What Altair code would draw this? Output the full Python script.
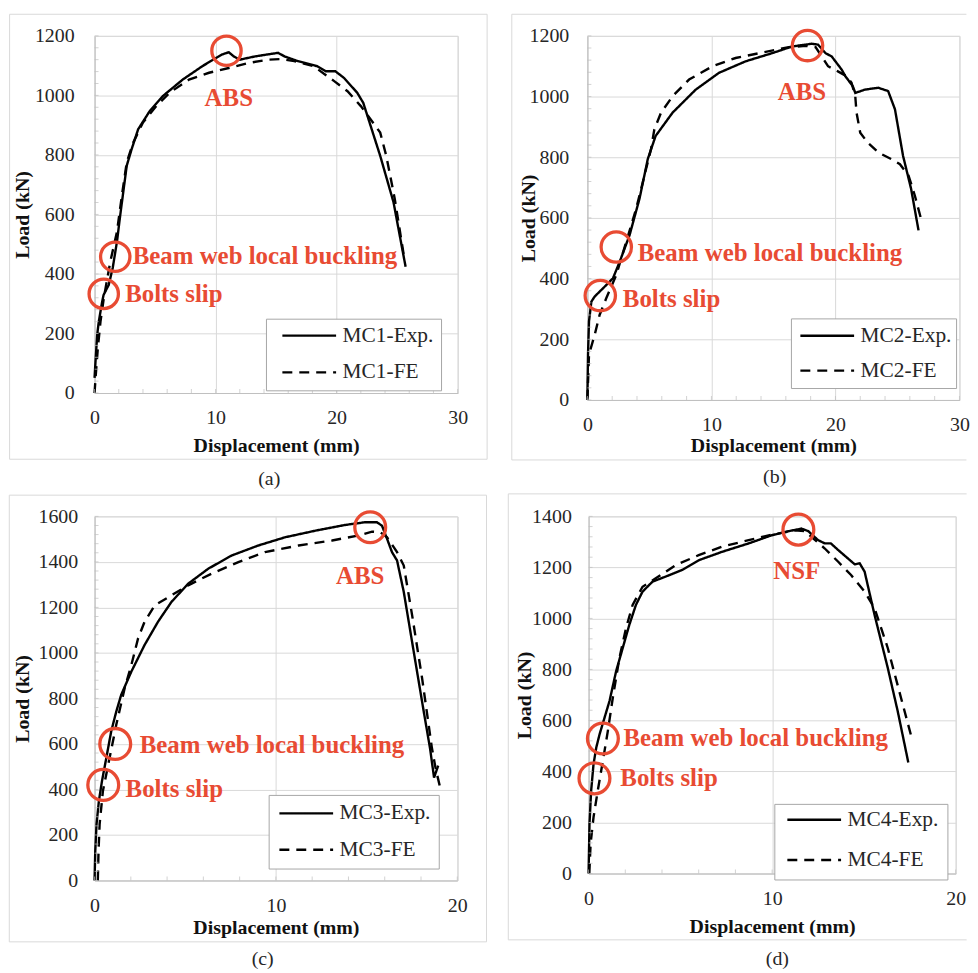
import altair as alt
import pandas as pd

FONT = "Liberation Serif"
RED = "#E84B33"
GRID = "#d9d9d9"
DOMAIN = "#bfbfbf"
TXT = "#262626"

# ---------------- data ----------------
# (a) MC1
a_exp_d = [0, 0.1, 0.22, 0.35, 0.63, 0.75, 1.17, 1.5, 1.85, 2.12, 2.66, 3.07, 3.6, 4.57, 5.65, 7.28, 8.9, 10.5, 11.09, 11.5, 12.0, 13.26, 15.16, 15.7, 16.8, 18.4, 19.1, 19.9, 20.6, 21.7, 22.2, 22.5, 23.6, 24.7, 25.7]
a_exp_L = [51, 120, 196, 240, 307, 330, 363, 420, 508, 597, 764, 820, 886, 948, 998, 1053, 1098, 1137, 1145, 1131, 1120, 1131, 1143, 1131, 1115, 1098, 1081, 1081, 1059, 1009, 975, 937, 797, 641, 424]
a_fe_d = [0, 0.1, 0.27, 0.49, 0.76, 1.3, 1.85, 2.26, 2.66, 3.2, 4.0, 5.1, 6.2, 7.8, 9.46, 11.09, 12.7, 14.35, 15.4, 16.5, 18.1, 19.8, 20.9, 22.0, 22.8, 23.6, 24.1, 24.8, 25.6]
a_fe_L = [0, 60, 150, 240, 318, 441, 541, 664, 775, 842, 909, 964, 1009, 1053, 1076, 1092, 1109, 1120, 1122, 1115, 1098, 1048, 1014, 964, 920, 875, 797, 653, 450]

# (b) MC2
b_exp_d = [0, 0.05, 0.13, 0.32, 0.59, 1.26, 2.06, 2.6, 3.4, 4.2, 4.87, 5.5, 6.87, 8.74, 10.6, 12.75, 14.9, 16.5, 18.1, 18.6, 19.2, 19.7, 20.5, 20.8, 21.4, 21.6, 22.4, 23.45, 24.25, 24.8, 25.45, 26.1, 26.7]
b_exp_L = [8, 150, 259, 324, 341, 368, 401, 455, 543, 663, 794, 870, 947, 1023, 1078, 1116, 1143, 1165, 1174, 1171, 1143, 1132, 1089, 1067, 1034, 1012, 1023, 1029, 1018, 958, 805, 696, 559]
b_fe_d = [0, 0.13, 0.59, 0.99, 1.52, 2.33, 3.13, 3.93, 4.73, 5.13, 5.4, 5.94, 6.87, 8.2, 10.1, 11.95, 14.1, 16.23, 17.6, 18.4, 18.9, 19.4, 20.2, 20.9, 21.3, 21.6, 21.7, 22.0, 22.6, 23.45, 24.5, 25.2, 25.9, 26.4, 26.9]
b_fe_L = [0, 150, 215, 281, 335, 412, 521, 630, 761, 827, 892, 947, 1001, 1056, 1100, 1127, 1145, 1163, 1167, 1163, 1132, 1100, 1083, 1067, 1045, 1001, 947, 881, 848, 816, 794, 777, 739, 674, 597]

# (c) MC3
c_exp_d = [0, 0.04, 0.11, 0.24, 0.41, 0.65, 0.92, 1.2, 1.47, 2.03, 2.76, 3.5, 4.24, 5.16, 6.27, 7.56, 9.03, 10.5, 12.17, 13.8, 14.9, 15.57, 15.85, 16.13, 16.4, 16.68, 17.05, 17.6, 18.15, 18.5, 18.72, 18.95]
c_exp_L = [0, 131, 248, 350, 437, 539, 656, 743, 816, 918, 1035, 1137, 1224, 1304, 1370, 1428, 1472, 1508, 1537, 1562, 1574, 1574, 1559, 1501, 1443, 1406, 1268, 1005, 743, 580, 452, 505]
c_fe_d = [0.18, 0.22, 0.28, 0.46, 0.83, 1.2, 1.66, 2.03, 2.4, 2.76, 3.32, 4.24, 5.16, 6.45, 7.93, 9.4, 11.25, 13.1, 14.56, 15.3, 15.76, 16.13, 16.68, 17.05, 17.51, 18.06, 18.6, 18.8, 19.05]
c_fe_L = [0, 131, 248, 393, 539, 685, 845, 947, 1064, 1137, 1209, 1253, 1297, 1348, 1399, 1443, 1472, 1494, 1516, 1533, 1530, 1508, 1443, 1384, 1166, 889, 583, 495, 410]

# (d) MC4
d_exp_d = [0, 0.05, 0.14, 0.27, 0.42, 0.6, 0.87, 1.14, 1.5, 1.86, 2.22, 2.58, 2.94, 3.48, 4.2, 5.1, 6.0, 7.27, 8.72, 9.98, 10.9, 11.6, 11.97, 12.5, 12.87, 13.2, 13.6, 14.13, 14.5, 14.77, 15.04, 15.58, 16.3, 16.84, 17.42]
d_exp_L = [0, 195, 325, 429, 494, 546, 611, 676, 793, 884, 975, 1053, 1105, 1144, 1164, 1190, 1228, 1261, 1294, 1326, 1342, 1352, 1342, 1307, 1294, 1294, 1268, 1235, 1212, 1216, 1183, 1014, 806, 637, 435]
d_fe_d = [0.04, 0.11, 0.27, 0.5, 0.78, 1.05, 1.32, 1.68, 2.04, 2.4, 2.94, 3.66, 4.75, 6.0, 7.27, 8.72, 9.98, 11.24, 11.8, 12.15, 12.87, 13.6, 14.3, 15.04, 15.58, 16.3, 17.02, 17.6]
d_fe_L = [0, 117, 221, 325, 442, 559, 689, 845, 962, 1053, 1124, 1157, 1209, 1248, 1281, 1307, 1328, 1345, 1342, 1319, 1274, 1222, 1170, 1105, 1040, 884, 689, 533]

# annotation circles (d, L) and labels (d, L at baseline, text)
a_circ = [(10.9, 1150), (1.71, 458), (0.76, 333)]
a_lab_c = [(11.09, 964, "ABS")]
a_lab_l = [(3.15, 432, "Beam web local buckling"), (2.53, 307, "Bolts slip")]
b_circ = [(17.75, 1168), (2.33, 504), (1.04, 344)]
b_lab_c = [(17.3, 990, "ABS")]
b_lab_l = [(4.06, 457, "Beam web local buckling"), (2.86, 308, "Bolts slip")]
c_circ = [(15.2, 1552), (1.14, 600), (0.48, 420)]
c_lab_c = [(14.65, 1304, "ABS")]
c_lab_l = [(2.49, 561, "Beam web local buckling"), (1.71, 367, "Bolts slip")]
d_circ = [(11.43, 1348), (0.78, 529), (0.32, 373)]
d_lab_c = [(11.34, 1154, "NSF")]
d_lab_l = [(1.9, 498, "Beam web local buckling"), (1.73, 344, "Bolts slip")]

x_major_30 = [0, 10, 20, 30]
x_major_20 = [0, 10, 20]
x_minor_30 = list(range(0, 31, 2))
x_minor_20 = list(range(0, 21, 2))
y_major_1200 = [0, 200, 400, 600, 800, 1000, 1200]
y_major_1600 = [0, 200, 400, 600, 800, 1000, 1200, 1400, 1600]
y_major_1400 = [0, 200, 400, 600, 800, 1000, 1200, 1400]
y_minor_1200 = list(range(0, 1201, 40))
y_minor_1600 = list(range(0, 1601, 40))
y_minor_1400 = list(range(0, 1401, 40))


def rule(**enc):
    return alt.Chart(pd.DataFrame({"k": [0]})).mark_rule(
        color=GRID, strokeWidth=1).encode(**{k: alt.value(v) for k, v in enc.items()})


def panel(name, exp_d, exp_L, fe_d, fe_L, xmax, ymax, xmaj, ymaj, xmin, ymin,
          w, h, frame, right_side, leg, legbox, circ, csize, lab_c, lab_l, title,
          tdx, toff, ytp, xty, ylp):
    en, fn = f"{name}-Exp.", f"{name}-FE"
    df = pd.DataFrame({
        "d": exp_d + fe_d,
        "L": exp_L + fe_L,
        "s": [en] * len(exp_d) + [fn] * len(fe_d),
        "i": list(range(len(exp_d))) + list(range(len(fe_d))),
    })
    xs = alt.Scale(domain=[0, xmax], nice=False, zero=False)
    ys = alt.Scale(domain=[0, ymax], nice=False, zero=False)

    xaxis = alt.Axis(values=xmaj, format="d", grid=True, gridColor=GRID,
                     domainColor=DOMAIN, ticks=False, tickSize=0, labelFont=FONT,
                     labelFontSize=20, labelColor=TXT, labelPadding=25,
                     labelBaseline="middle", labelFlush=False, labelOverlap=False,
                     title="Displacement (mm)", titleFont=FONT, titleFontSize=20,
                     titleFontWeight="bold", titleColor="#111",
                     titleBaseline="alphabetic", titleX=w / 2, titleY=xty)
    yaxis = alt.Axis(values=ymaj, format="d", grid=True, gridColor=GRID,
                     domainColor=DOMAIN, ticks=False, tickSize=0, labelFont=FONT,
                     labelFontSize=20, labelColor=TXT, labelPadding=ylp,
                     labelFlush=False, labelOverlap=False, title="Load (kN)",
                     titleFont=FONT, titleFontSize=20, titleFontWeight="bold",
                     titleColor="#111", titlePadding=ytp)

    def X(f):
        return alt.X(f, scale=xs, axis=xaxis)

    def Y(f):
        return alt.Y(f, scale=ys, axis=yaxis)

    fx1, fx2, fy1, fy2 = frame
    frames = [
        rule(x=fx1, x2=fx2, y=fy1),
        rule(x=fx1, x2=fx2, y=fy2),
        rule(x=fx1, y=fy1, y2=fy2),
    ]
    if right_side:
        frames.append(rule(x=fx2, y=fy1, y2=fy2))

    lpad, soff, clip, rpad = legbox
    lines = alt.Chart(df).mark_line(color="black", strokeWidth=2.4).encode(
        x=X("d:Q"),
        y=Y("L:Q"),
        strokeDash=alt.StrokeDash(
            "s:N",
            scale=alt.Scale(domain=[en, fn], range=[[1, 0], [10, 7]]),
            legend=alt.Legend(title=None, orient="none", legendX=leg[0], legendY=leg[1],
                              symbolType="stroke", symbolSize=2916,
                              symbolStrokeWidth=2.4, symbolStrokeColor="black",
                              clipHeight=clip, rowPadding=rpad, padding=lpad,
                              symbolOffset=soff, labelOffset=5, labelFont=FONT,
                              labelFontSize=21.5, labelColor=TXT,
                              strokeColor="#a6a6a6", fillColor="white")),
        order="i:Q",
    )

    mx = alt.Chart(pd.DataFrame({"d": xmin, "L": [0] * len(xmin)})).mark_tick(
        orient="vertical", color=DOMAIN, size=4, thickness=1, yOffset=-2).encode(
        x=X("d:Q"), y=Y("L:Q"))
    my = alt.Chart(pd.DataFrame({"L": ymin, "d": [0] * len(ymin)})).mark_tick(
        orient="horizontal", color=DOMAIN, size=4, thickness=1, xOffset=2).encode(
        y=Y("L:Q"), x=X("d:Q"))

    cdf = pd.DataFrame({"d": [c[0] for c in circ], "L": [c[1] for c in circ]})
    circles = alt.Chart(cdf).mark_point(
        shape="circle", size=csize, stroke=RED, strokeWidth=3.3, filled=False,
        opacity=1).encode(x=X("d:Q"), y=Y("L:Q"))

    ldf = pd.DataFrame({"d": [t[0] for t in lab_l], "L": [t[1] for t in lab_l],
                        "t": [t[2] for t in lab_l]})
    tl = alt.Chart(ldf).mark_text(
        font=FONT, fontSize=25, fontWeight="bold", color=RED, align="left",
        baseline="alphabetic").encode(x=X("d:Q"), y=Y("L:Q"), text="t:N")
    cdf2 = pd.DataFrame({"d": [t[0] for t in lab_c], "L": [t[1] for t in lab_c],
                         "t": [t[2] for t in lab_c]})
    tc = alt.Chart(cdf2).mark_text(
        font=FONT, fontSize=25, fontWeight="bold", color=RED, align="center",
        baseline="alphabetic").encode(x=X("d:Q"), y=Y("L:Q"), text="t:N")

    return alt.layer(*frames, lines, mx, my, circles, tl, tc).properties(
        width=w, height=h,
        title=alt.TitleParams(title, orient="bottom", frame="group", anchor="middle",
                              dx=tdx, offset=toff, font=FONT, fontSize=20,
                              fontWeight="normal", color=TXT))


pa = panel("MC1", a_exp_d, a_exp_L, a_fe_d, a_fe_L, 30, 1200, x_major_30, y_major_1200,
           x_minor_30, y_minor_1200, 365, 359, (-85.4, 394.6, -21.7, 425.6), True,
           (172.3, 284.3), (7, 8, 20, 15), a_circ, 870, a_lab_c, a_lab_l, "(a)",
           -6.9, 9, 1.6, 58.7, 20.5)
pb = panel("MC2", b_exp_d, b_exp_L, b_fe_d, b_fe_L, 30, 1200, x_major_30, y_major_1200,
           x_minor_30, y_minor_1200, 374, 366, (-76, 381, -21.7, 426.3), False,
           (204.6, 284), (4, 4, 27, 8), b_circ, 930, b_lab_c, b_lab_l, "(b)",
           1.3, 7, -9.3, 51.7, 18.7)
pc = panel("MC3", c_exp_d, c_exp_L, c_fe_d, c_fe_L, 20, 1600, x_major_20, y_major_1600,
           x_minor_20, y_minor_1600, 364.6, 366, (-85.7, 394, -21.3, 427.7), True,
           (175, 280), (8, 1.3, 21, 14.6), c_circ, 961, c_lab_c, c_lab_l, "(c)",
           -13.3, 7, 5.9, 53.3, 16.9)
pd_ = panel("MC4", d_exp_d, d_exp_L, d_fe_d, d_fe_L, 20, 1400, x_major_20, y_major_1400,
            x_minor_20, y_minor_1400, 369, 359, (-80.7, 380, -22.6, 425.7), False,
            (186.7, 289), (9, 2.6, 14, 18.4), d_circ, 961, d_lab_c, d_lab_l, "(d)",
            5.3, 9, -2.9, 59.4, 17.3)

top = alt.hconcat(pa, pb, spacing=22.4).resolve_scale(strokeDash="independent")
bottom = alt.hconcat(pc, pd_, spacing=19.6).resolve_scale(strokeDash="independent")

chart = alt.vconcat(top, bottom, spacing=3).resolve_scale(
    strokeDash="independent"
).properties(
    padding={"left": 0, "top": 2.5, "right": 0, "bottom": 0}
).configure_view(stroke=GRID)

chart.save("out.html", embed_options={"renderer": "svg", "actions": False})
